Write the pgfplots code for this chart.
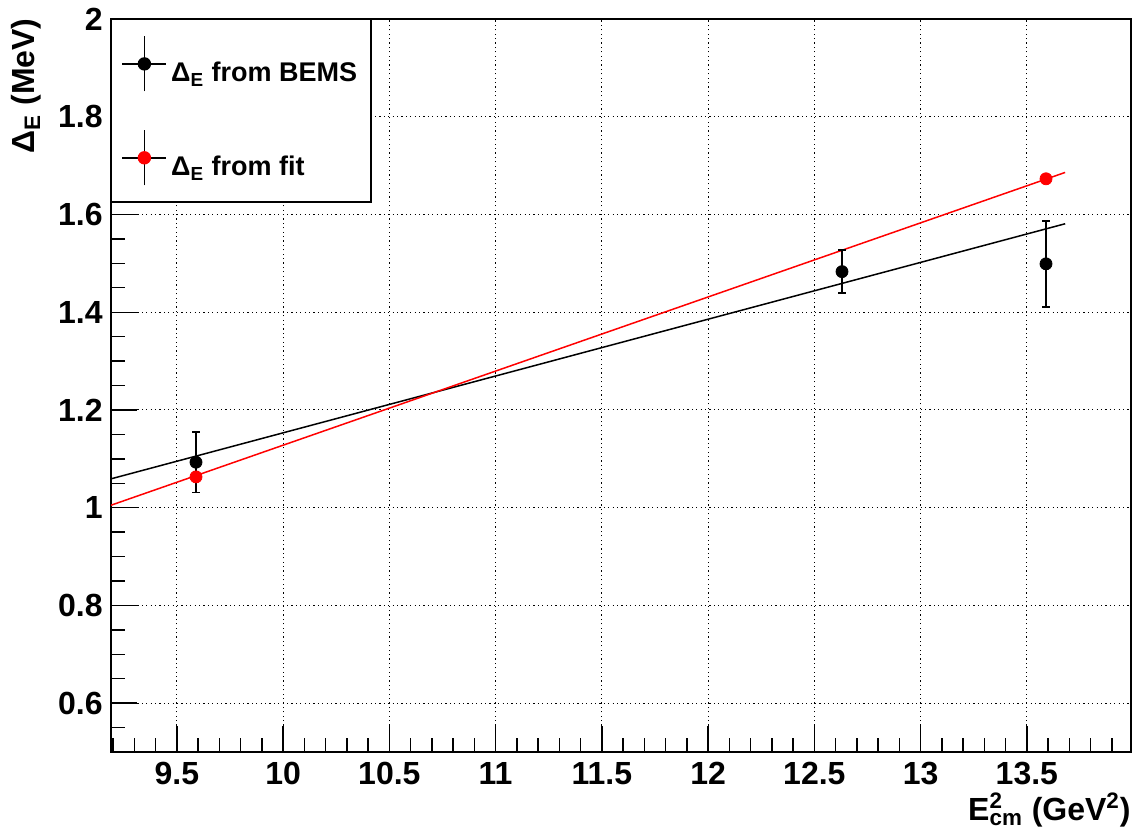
\documentclass[border=0pt]{standalone}
\usepackage{fontspec}
\setmainfont{Liberation Sans}
\usepackage{pgfplots}
\pgfplotsset{compat=1.18}

% Energy spread: BEMS measurement vs. fit
\pgfplotstableread{
x      y      ey
9.59   1.093  0.062
12.63  1.483  0.044
13.59  1.499  0.088
}\bems
\pgfplotstableread{
x      y
9.59   1.063
13.59  1.673
}\fitpts

\begin{document}
\begin{tikzpicture}
\begin{axis}[
  scale only axis,
  width=510pt, height=366.5pt,
  xmin=9.19, xmax=13.99, ymin=0.5, ymax=2.0,
  xtick={9.5,10,10.5,11,11.5,12,12.5,13,13.5},
  ytick={0.6,0.8,1,1.2,1.4,1.6,1.8,2},
  minor xtick={9.2,9.3,9.4,9.6,9.7,9.8,9.9,10.1,10.2,10.3,10.4,10.6,10.7,10.8,10.9,11.1,11.2,11.3,11.4,11.6,11.7,11.8,11.9,12.1,12.2,12.3,12.4,12.6,12.7,12.8,12.9,13.1,13.2,13.3,13.4,13.6,13.7,13.8,13.9},
  minor ytick={0.55,0.65,0.7,0.75,0.85,0.9,0.95,1.05,1.1,1.15,1.25,1.3,1.35,1.45,1.5,1.55,1.65,1.7,1.75,1.85,1.9,1.95},
  xtick pos=bottom, ytick pos=left,
  tick align=inside,
  major tick length=13pt, minor tick length=7pt,
  tick style={black, line width=0.7pt},
  axis line style={black, line width=0.8pt},
  grid=major,
  major grid style={black, line width=0.5pt, dash pattern=on 0.6pt off 1.6pt},
  /pgf/number format/assume math mode=true,
  tick label style={font=\fontsize{16}{16}\selectfont\bfseries, inner sep=0pt},
  xticklabel style={yshift=-5pt},
  yticklabel style={xshift=-4pt},
  xlabel={E\rlap{\textsuperscript{2}}\textsubscript{cm} (GeV\textsuperscript{2})},
  xlabel style={at={([yshift=-20pt]rel axis cs:1,0)}, anchor=north east, inner sep=0pt,
    font=\fontsize{16}{16}\selectfont\bfseries},
  ylabel={Δ\textsubscript{E} (MeV)},
  ylabel style={at={([xshift=-34.5pt,yshift=0.5pt]rel axis cs:0,1)}, anchor=south east, inner sep=0pt,
    font=\fontsize{16}{16}\selectfont\bfseries},
  legend style={at={(rel axis cs:0,1)}, anchor=north west, draw=black, line width=0.7pt,
    fill=white, inner xsep=5pt, inner ysep=8pt, row sep=18.75pt,
    font=\fontsize{13.5}{13.5}\selectfont\bfseries,
    /tikz/every even column/.append style={column sep=5.5pt}},
  legend cell align=left,
  clip=false,
]
\coordinate (ll) at (rel axis cs:0,0);
\coordinate (ur) at (rel axis cs:1,1);

% legend entries: marker with error cross
\addlegendimage{legend image code/.code={
  \draw[black, line width=0.7pt] (-11pt,4.8pt) -- (11pt,4.8pt) (0,-8.95pt) -- (0,18.55pt);
  \fill[black] (0,4.8pt) circle (3pt);}}
\addlegendentry{Δ\textsubscript{E} from BEMS}
\addlegendimage{legend image code/.code={
  \draw[black, line width=0.7pt] (-11pt,4.8pt) -- (11pt,4.8pt) (0,-8.95pt) -- (0,18.55pt);
  \fill[red] (0,4.8pt) circle (3pt);}}
\addlegendentry{Δ\textsubscript{E} from fit}

% linear fits
\addplot[black, line width=0.75pt, forget plot] coordinates {(9.19,1.059) (13.68,1.581)};
\addplot[red, line width=0.75pt, forget plot] coordinates {(9.19,1.005) (13.68,1.686)};

% BEMS measurements
\addplot[black, only marks, mark=*, mark size=3pt, forget plot,
  error bars/.cd, y dir=both, y explicit,
  error mark=|,
  error mark options={black, mark size=1.8pt, line width=0.7pt},
  error bar style={black, line width=0.7pt}]
  table[x=x, y=y, y error=ey] {\bems};

% fitted values
\addplot[red, only marks, mark=*, mark size=3pt, forget plot]
  table[x=x, y=y] {\fitpts};
\end{axis}
\pgfresetboundingbox
\path[use as bounding box] ([xshift=-55.5pt,yshift=-40pt]ll) rectangle ([xshift=1.5pt,yshift=9.5pt]ur);
\end{tikzpicture}
\end{document}
